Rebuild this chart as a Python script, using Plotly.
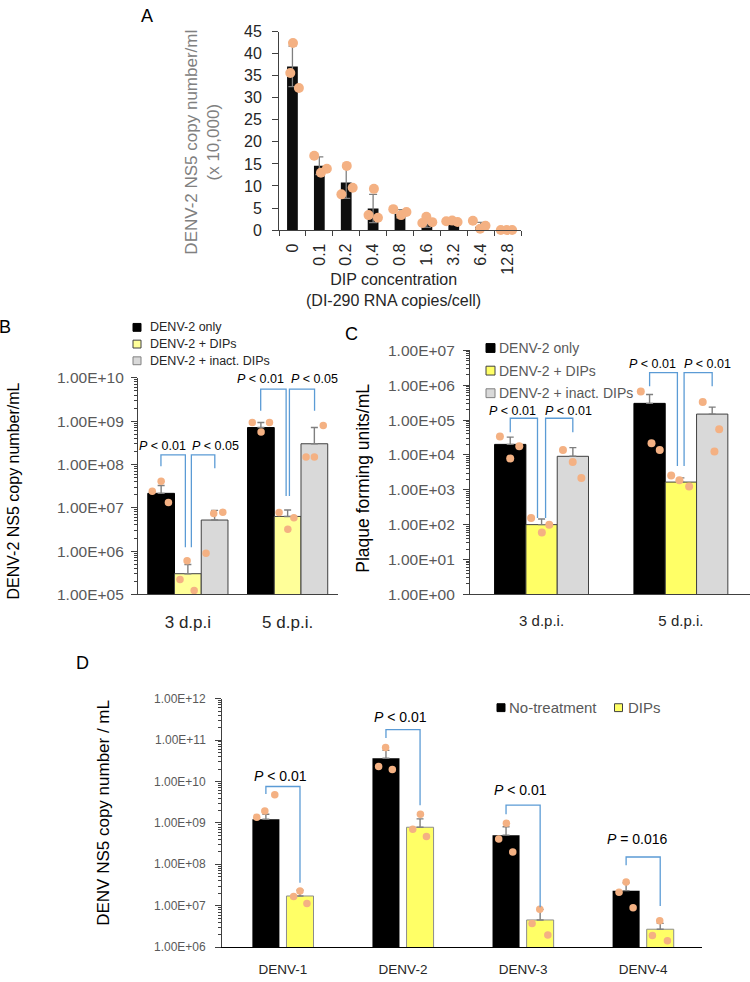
import numpy as np
import plotly.graph_objects as go

W, H = 750, 982
def px(x): return x / W
def py(y): return 1 - y / H

FONT = "Liberation Sans, Arial, sans-serif"
DOT = "#F4B183"
BLUE = "#5B9BD5"
GREYTXT = "#595959"

# ---------------- Panel A data ----------------
a_cats = ["0", "0.1", "0.2", "0.4", "0.8", "1.6", "3.2", "6.4", "12.8"]
a_mean = [37.1, 14.6, 10.8, 4.9, 3.7, 1.4, 1.7, 0.75, 0.03]
a_sd = [4.6, 2.0, 3.6, 3.2, 0.95, 0.8, 0.2, 1.0, 0.0]
a_pts = [[42.4, 35.6, 32.2], [16.85, 13.0, 13.9], [14.55, 8.1, 9.6], [9.35, 3.4, 2.8],
         [4.75, 3.4, 4.1], [3.0, 1.6, 1.8], [2.0, 2.15, 1.85], [2.1, 0.3, 1.0], [0, 0, 0]]
a_yticks = [0, 5, 10, 15, 20, 25, 30, 35, 40, 45]

# ---------------- Panel B data ----------------
b_groups = ["3 d.p.i", "5 d.p.i."]
b_series = ["DENV-2 only", "DENV-2 + DIPs", "DENV-2 + inact. DIPs"]
b_mean_only = [2.15e7, 7.1e8]
b_mean_dips = [3.0e5, 6.3e6]
b_mean_inact = [5.2e6, 3.0e8]
b_err_only = [1.1e7, 2.2e8]
b_err_dips = [1.9e5, 2.6e6]
b_err_inact = [3.5e6, 4.1e8]
b_pts_only = [[2.4e7, 4.07e7, 1.32e7], [9.3e8, 5.6e8, 9.3e8]]
b_pts_dips = [[6.0e5, 2.2e5, 1.23e5], [7.8e6, 3.2e6, 5.9e6]]
b_pts_inact = [[8.9e5, 7.4e6, 7.9e6], [7.9e8, 1.48e8, 1.48e8]]
b_ptext = ["<i>P</i> &lt; 0.01", "<i>P</i> &lt; 0.05", "<i>P</i> &lt; 0.01", "<i>P</i> &lt; 0.05"]
b_tickvals = [1e5, 1e6, 1e7, 1e8, 1e9, 1e10]
b_ticktext = ["1.00E+05", "1.00E+06", "1.00E+07", "1.00E+08", "1.00E+09", "1.00E+10"]

# ---------------- Panel C data ----------------
c_groups = ["3 d.p.i.", "5 d.p.i."]
c_mean_only = [2.0e4, 3.0e5]
c_mean_dips = [1.0e2, 1.66e3]
c_mean_inact = [9.1e3, 1.48e5]
c_err_only = [1.24e4, 2.37e5]
c_err_dips = [45, 5.3e2]
c_err_inact = [7.1e3, 8.6e4]
c_pts_only = [[3.39e4, 1.78e4, 7.9e3], [6.6e5, 2.14e4, 1.38e4]]
c_pts_dips = [[155, 100, 59], [2.57e3, 1.86e3, 1.23e3]]
c_pts_inact = [[1.38e4, 6.3e3, 2.19e3], [3.31e5, 5.4e4, 1.26e4]]
c_ptext = ["<i>P</i> &lt; 0.01"] * 4
c_tickvals = [1e0, 1e1, 1e2, 1e3, 1e4, 1e5, 1e6, 1e7]
c_ticktext = ["1.00E+00", "1.00E+01", "1.00E+02", "1.00E+03", "1.00E+04", "1.00E+05", "1.00E+06", "1.00E+07"]

# ---------------- Panel D data ----------------
d_cats = ["DENV-1", "DENV-2", "DENV-3", "DENV-4"]
d_series = ["No-treatment", "DIPs"]
d_mean_nt = [1.23e9, 3.63e10, 5.1e8, 2.34e7]
d_err_nt = [3.9e8, 2.0e10, 3.0e8, 1.3e7]
d_mean_dip = [1.74e7, 7.9e8, 4.6e6, 2.75e6]
d_err_dip = [6.6e6, 4.7e8, 3.7e6, 1.05e6]
d_pts_nt = [[1.38e9, 1.95e9, 4.8e9], [6.6e10, 2.29e10, 1.95e10], [9.8e8, 4.1e8, 2.0e8], [3.8e7, 2.14e7, 9.1e6]]
d_pts_dip = [[1.7e7, 2.29e7, 1.15e7], [1.62e9, 7.1e8, 4.7e8], [8.3e6, 3.8e6, 2.0e6], [4.4e6, 1.95e6, 1.45e6]]
d_ptext = ["<i>P</i> &lt; 0.01", "<i>P</i> &lt; 0.01", "<i>P</i> &lt; 0.01", "<i>P</i> = 0.016"]
d_tickvals = [1e6, 1e7, 1e8, 1e9, 1e10, 1e11, 1e12]
d_ticktext = ["1.00E+06", "1.00E+07", "1.00E+08", "1.00E+09", "1.00E+10", "1.00E+11", "1.00E+12"]

# ---------------- styling / geometry (not data) ----------------
a_jit = [[0.02, -0.08, 0.24], [-0.19, 0.06, 0.28], [0.02, -0.18, 0.24], [0.03, -0.17, 0.18],
         [-0.25, 0.04, 0.24], [-0.02, -0.17, 0.2], [-0.28, -0.06, 0.14], [-0.29, -0.02, 0.18],
         [-0.25, -0.03, 0.17]]
b_jit = {"only": [[-0.089, 0, 0.073], [-0.086, 0.002, 0.086]],
         "dips": [[-0.008, -0.079, 0.063], [-0.086, 0.002, 0.063]],
         "inact": [[-0.086, -0.009, 0.082], [0.089, -0.083, 0]]}
c_jit = {"only": [[-0.074, 0.065, 0], [-0.063, 0.014, 0.073]],
         "dips": [[-0.075, 0.055, 0.002], [-0.07, -0.011, 0.059]],
         "inact": [[-0.071, -0.001, 0.061], [-0.068, 0.05, 0.016]]}
d_jit_nt = [[-0.076, -0.009, 0.074], [-0.003, -0.061, 0.053], [0.003, -0.061, 0.056], [0, -0.059, 0.058]]
d_jit_dip = [[-0.053, 0, 0.058], [0.003, -0.061, 0.053], [-0.003, -0.067, 0.064], [-0.004, -0.065, 0.06]]

# bracket geometry: (x_left, x_right, log_y_left_bottom, log_y_top, log_y_right_bottom)
b_br = [(-0.27, -0.025, 7.96, 8.22, 6.09), (0.035, 0.27, 6.09, 8.22, 7.91),
        (0.73, 0.985, 9.24, 9.74, 7.27), (1.018, 1.27, 7.27, 9.74, 9.24)]
b_lab = [(-0.25, 8.42), (0.276, 8.42), (0.73, 9.97), (1.27, 9.97)]
c_br = [(-0.2245, -0.029, 4.65, 5.05, 2.19), (0.029, 0.2245, 2.19, 5.05, 4.65),
        (0.7755, 0.975, 5.97, 6.36, 3.68), (1.023, 1.2245, 3.68, 6.36, 5.97)]
c_lab = [(-0.209, 5.26), (0.19, 5.26), (0.797, 6.62), (1.19, 6.62)]
d_br = [(-0.142, 0.142, 9.70, 9.88, 7.56), (0.858, 1.142, 11.05, 11.25, 9.43),
        (1.858, 2.142, 9.21, 9.43, 6.97), (2.858, 3.142, 7.98, 8.18, 7.0)]
d_lab = [(-0.02, 10.13), (0.98, 11.55), (1.98, 9.79), (2.956, 8.62)]

fig = go.Figure()


def add_bar(xa, ya, n, means, errs, off, width, color, lcolor, lwidth, ecolor, symmetric=False, ethick=1.4, ewidth=3.5):
    if symmetric:
        ey = dict(type="data", array=errs, symmetric=True, color=ecolor, thickness=ethick, width=ewidth)
    else:
        ey = dict(type="data", array=errs, arrayminus=[0] * n, symmetric=False,
                  color=ecolor, thickness=ethick, width=ewidth)
    fig.add_trace(go.Bar(x=list(range(n)), y=means, offset=off, width=width,
                         marker=dict(color=color, line=dict(color=lcolor, width=lwidth)),
                         error_y=ey, xaxis=xa, yaxis=ya, showlegend=False))


def add_dots(xa, ya, pts, jit, center, size):
    xs, ys = [], []
    for i, (grp, jg) in enumerate(zip(pts, jit)):
        for v, j in zip(grp, jg):
            xs.append(i + center + j)
            ys.append(v)
    fig.add_trace(go.Scatter(x=xs, y=ys, mode="markers", xaxis=xa, yaxis=ya,
                             marker=dict(color=DOT, size=size, line=dict(width=0)),
                             cliponaxis=False, showlegend=False))


def add_brackets(xa, ya, br, log=True):
    for (xl, xr, yl, yt, yr) in br:
        ys = [yl, yt, yt, yr]
        if log:
            ys = [10 ** v for v in ys]
        fig.add_trace(go.Scatter(x=[xl, xl, xr, xr], y=ys, mode="lines", xaxis=xa, yaxis=ya,
                                 line=dict(color=BLUE, width=1.3), showlegend=False,
                                 cliponaxis=False, hoverinfo="skip"))


# ---------------- Panel A ----------------
add_bar("x", "y", len(a_cats), a_mean, a_sd, -0.2, 0.4, "#0d0d0d", "#0d0d0d", 0, "#7f7f7f",
        symmetric=True, ethick=1.3, ewidth=4)
add_dots("x", "y", a_pts, a_jit, 0, 10)

# ---------------- Panel B ----------------
bw = 0.268
b_off = [-0.402, -0.134, 0.134]
add_bar("x2", "y2", 2, b_mean_only, b_err_only, b_off[0], bw, "#000000", "#000000", 1, "#7f7f7f")
add_bar("x2", "y2", 2, b_mean_dips, b_err_dips, b_off[1], bw, "#FFFF99", "#404040", 1, "#7f7f7f")
add_bar("x2", "y2", 2, b_mean_inact, b_err_inact, b_off[2], bw, "#D9D9D9", "#404040", 1, "#7f7f7f")
add_dots("x2", "y2", b_pts_only, b_jit["only"], b_off[0] + bw / 2, 7.5)
add_dots("x2", "y2", b_pts_dips, b_jit["dips"], b_off[1] + bw / 2, 7.5)
add_dots("x2", "y2", b_pts_inact, b_jit["inact"], b_off[2] + bw / 2, 7.5)
add_brackets("x2", "y2", b_br)

# ---------------- Panel C ----------------
cw = 0.2245
c_off = [-0.337, -0.112, 0.1125]
add_bar("x3", "y3", 2, c_mean_only, c_err_only, c_off[0], cw, "#000000", "#000000", 1, "#7f7f7f")
add_bar("x3", "y3", 2, c_mean_dips, c_err_dips, c_off[1], cw, "#FFFF66", "#404040", 1, "#7f7f7f")
add_bar("x3", "y3", 2, c_mean_inact, c_err_inact, c_off[2], cw, "#D9D9D9", "#404040", 1, "#7f7f7f")
add_dots("x3", "y3", c_pts_only, c_jit["only"], c_off[0] + cw / 2, 8)
add_dots("x3", "y3", c_pts_dips, c_jit["dips"], c_off[1] + cw / 2, 8)
add_dots("x3", "y3", c_pts_inact, c_jit["inact"], c_off[2] + cw / 2, 8)
add_brackets("x3", "y3", c_br)

# ---------------- Panel D ----------------
dw = 0.225
d_off = [-0.2545, 0.0295]
add_bar("x4", "y4", 4, d_mean_nt, d_err_nt, d_off[0], dw, "#000000", "#000000", 0, "#7f7f7f")
add_bar("x4", "y4", 4, d_mean_dip, d_err_dip, d_off[1], dw, "#FFFF66", "#8c8c8c", 1, "#7f7f7f")
add_dots("x4", "y4", d_pts_nt, d_jit_nt, d_off[0] + dw / 2, 7.5)
add_dots("x4", "y4", d_pts_dip, d_jit_dip, d_off[1] + dw / 2, 7.5)
add_brackets("x4", "y4", d_br)


def minor_log(lo, hi):
    return [m * 10 ** e for e in range(lo, hi) for m in range(2, 10)]


axcol = "#404040"
common_y = dict(showgrid=False, zeroline=False, showline=True, linecolor=axcol, linewidth=1,
                ticks="outside", tickcolor=axcol, tickwidth=1)
common_x = dict(showgrid=False, zeroline=False, showline=True, linecolor=axcol, linewidth=1)

fig.update_layout(
    width=W, height=H, margin=dict(l=0, r=0, t=0, b=0),
    paper_bgcolor="white", plot_bgcolor="rgba(0,0,0,0)",
    barmode="overlay", showlegend=False,
    font=dict(family=FONT, color="#000000"),
    # A
    xaxis=dict(common_x, domain=[px(279), px(521)], range=[-0.5, 8.5], anchor="y",
               tickmode="array", tickvals=list(range(len(a_cats))), ticktext=a_cats,
               tickangle=-90, ticks="", tickfont=dict(size=16, color="#262626"),
               minor=dict(tickmode="array", tickvals=[i - 0.5 for i in range(len(a_cats) + 1)],
                          ticks="outside", ticklen=5, tickcolor=axcol, showgrid=False),
               ticklabelstandoff=6),
    yaxis=dict(common_y, domain=[py(226), py(24)], range=[0, 45], anchor="x",
               tickmode="array", tickvals=a_yticks, ticklen=6,
               tickfont=dict(size=16, color="#262626"), ticklabelstandoff=7),
    # B
    xaxis2=dict(common_x, domain=[px(138), px(337.5)], range=[-0.5, 1.5], anchor="y2",
                tickmode="array", tickvals=[0, 1], ticktext=b_groups, ticks="",
                tickfont=dict(size=17, color="#262626"), ticklabelstandoff=12),
    yaxis2=dict(common_y, type="log", domain=[py(596.7), py(376.3)], range=[5, 10], anchor="x2",
                tickmode="array", tickvals=b_tickvals, showticklabels=False, ticklen=6,
                minor=dict(tickmode="array", tickvals=minor_log(5, 10), ticks="outside",
                           ticklen=3, tickcolor=axcol, showgrid=False)),
    # C
    xaxis3=dict(common_x, domain=[px(469.5), 1.0], range=[-0.517, 1.496], anchor="y3",
                tickmode="array", tickvals=[0, 1], ticktext=c_groups, ticks="",
                tickfont=dict(size=15, color="#262626"), ticklabelstandoff=13),
    yaxis3=dict(common_y, type="log", domain=[py(596.7), py(348.3)], range=[0, 7], anchor="x3",
                tickmode="array", tickvals=c_tickvals, showticklabels=False, ticklen=6,
                minor=dict(tickmode="array", tickvals=minor_log(0, 7), ticks="outside",
                           ticklen=3, tickcolor=axcol, showgrid=False)),
    # D
    xaxis4=dict(common_x, domain=[px(221.7), px(702)], range=[-0.51, 3.49], anchor="y4",
                tickmode="array", tickvals=[0, 1, 2, 3], ticktext=d_cats, ticks="",
                tickfont=dict(size=13.5, color="#262626"), ticklabelstandoff=9, linecolor="#000000"),
    yaxis4=dict(common_y, type="log", domain=[py(956), py(702.7)], range=[6, 12], anchor="x4",
                tickmode="array", tickvals=d_tickvals, showticklabels=False, ticklen=6,
                minor=dict(tickmode="array", tickvals=minor_log(6, 12), ticks="outside",
                           ticklen=3, tickcolor=axcol, showgrid=False)),
)

ann = []
shapes = []


def pann(x, y, text, size, color="#000000", angle=0, xanchor="center", yanchor="middle"):
    ann.append(dict(x=px(x), y=py(y), xref="paper", yref="paper", text=text, showarrow=False,
                    textangle=angle, xanchor=xanchor, yanchor=yanchor,
                    font=dict(size=size, color=color, family=FONT)))


def log_ticklabels(yref, vals, texts, x_right, size):
    for v, t in zip(vals, texts):
        ann.append(dict(x=px(x_right), xref="paper", y=float(np.log10(v)), yref=yref,
                        text=t, showarrow=False, xanchor="right", yanchor="middle",
                        font=dict(size=size, color=GREYTXT, family=FONT)))


log_ticklabels("y2", b_tickvals, b_ticktext, 126, 15.5)
log_ticklabels("y3", c_tickvals, c_ticktext, 457, 15.5)
log_ticklabels("y4", d_tickvals, d_ticktext, 208, 12)

# panel letters
pann(147, 8, "A", 18)
pann(5, 325, "B", 18)
pann(351, 332, "C", 18)
pann(82, 667, "D", 18)

# axis titles
pann(203, 137, "DENV-2 NS5 copy number/ml<br>(x 10,000)", 17, "#808080", -90)
pann(393, 287, "DIP concentration<br>(DI-290 RNA copies/cell)", 16, "#262626")
pann(13, 492, "DENV-2 NS5 copy number/mL", 16, "#000000", -90)
pann(363, 479, "Plaque forming units/mL", 17.5, "#000000", -90)
pann(104, 819, "DENV NS5 copy number / mL", 17, "#000000", -90)

# P-value labels
for (x, y), t in zip(b_lab, b_ptext):
    ann.append(dict(x=x, y=y, xref="x2", yref="y2", text=t, showarrow=False,
                    font=dict(size=12.5, color="#000000", family=FONT)))
for (x, y), t in zip(c_lab, c_ptext):
    ann.append(dict(x=x, y=y, xref="x3", yref="y3", text=t, showarrow=False,
                    font=dict(size=12.5, color="#000000", family=FONT)))
for (x, y), t in zip(d_lab, d_ptext):
    ann.append(dict(x=x, y=y, xref="x4", yref="y4", text=t, showarrow=False,
                    font=dict(size=14, color="#000000", family=FONT)))


def legend_item(x0, yc, size, fill, border, text, tsize, tcolor, tx):
    shapes.append(dict(type="rect", xref="paper", yref="paper",
                       x0=px(x0), x1=px(x0 + size), y0=py(yc + size / 2), y1=py(yc - size / 2),
                       fillcolor=fill, line=dict(color=border, width=1)))
    pann(tx, yc, text, tsize, tcolor, 0, "left")


# legend B
legend_item(133, 325, 8, "#000000", "#000000", b_series[0], 12.5, "#262626", 148)
legend_item(133, 342, 8, "#FFFF99", "#404040", b_series[1], 12.5, "#262626", 148)
legend_item(133, 359, 8, "#D9D9D9", "#808080", b_series[2], 12.5, "#262626", 148)
# legend C
legend_item(486, 346, 9, "#000000", "#000000", b_series[0], 14, GREYTXT, 496.5)
legend_item(486, 369, 9, "#FFFF66", "#404040", b_series[1], 14, GREYTXT, 496.5)
legend_item(486, 392, 9, "#D9D9D9", "#808080", b_series[2], 14, GREYTXT, 496.5)
# legend D
legend_item(497, 712, 8, "#000000", "#000000", d_series[0], 15, GREYTXT, 507)
legend_item(614.5, 712, 8, "#FFFF66", "#404040", d_series[1], 15, GREYTXT, 625.5)

fig.update_layout(annotations=ann, shapes=shapes)
fig.write_html("out.html", config={"displayModeBar": False},
               post_script="document.body.style.margin='0px';document.body.style.overflow='hidden';")
